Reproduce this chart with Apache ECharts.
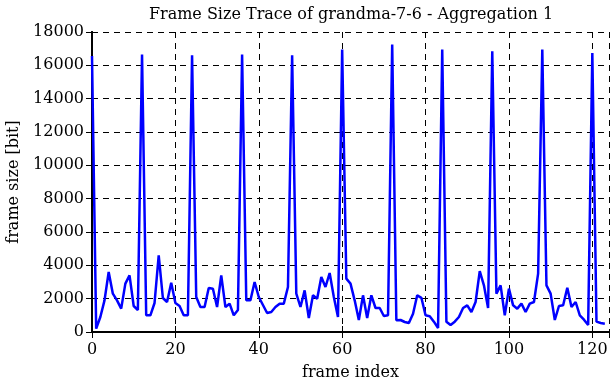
<!DOCTYPE html>
<html>
<head>
<meta charset="utf-8">
<script src="https://cdn.jsdelivr.net/npm/echarts@6/dist/echarts.min.js"></script>
<style>html,body{margin:0;padding:0;background:#fff}#c{width:612px;height:382px}</style>
</head>
<body>
<div id="c"></div>
<script>
const titleText = "Frame Size Trace of grandma-7-6 - Aggregation 1";
const xName = "frame index";
const yName = "frame size [bit]";
const yTicks = [0, 2000, 4000, 6000, 8000, 10000, 12000, 14000, 16000, 18000];
const xTicks = [0, 20, 40, 60, 80, 100, 120];
// frame sizes in bits, frames 0..123
const frameSizes = [
  16560, 200, 900, 1900, 3600, 2300, 1900, 1400, 2900, 3400,
  1560, 1320, 16650, 1000, 1000, 1740, 4600, 2040, 1800, 2950,
  1740, 1560, 1000, 1000, 16600, 2100, 1500, 1500, 2640, 2600,
  1500, 3400, 1500, 1700, 1000, 1320, 16650, 1900, 1900, 3000,
  2100, 1620, 1140, 1200, 1500, 1700, 1700, 2700, 16600, 2300,
  1500, 2500, 840, 2200, 2000, 3300, 2700, 3540, 2100, 900,
  16950, 3200, 2900, 1900, 720, 2200, 840, 2200, 1440, 1440,
  960, 1000, 17250, 700, 720, 600, 540, 1100, 2200, 2050,
  1000, 950, 620, 240, 16950, 620, 420, 620, 900, 1440,
  1600, 1200, 1800, 3650, 2800, 1440, 16850, 2300, 2800, 1000,
  2600, 1600, 1400, 1700, 1200, 1700, 1800, 3500, 16950, 2800,
  2300, 720, 1560, 1600, 2650, 1500, 1800, 1000, 740, 420,
  16740, 620, 540, 500
];
const seriesData = frameSizes.map((v, i) => [i, v]);

const font = "DejaVu Serif";
const chart = echarts.init(document.getElementById('c'), null, {renderer: 'canvas'});
chart.setOption({
  animation: false,
  backgroundColor: '#fff',
  title: {text: titleText, left: 346, top: 2, textAlign: 'center',
    textStyle: {fontFamily: font, fontSize: 16, fontWeight: 'normal', color: '#000'}},
  grid: {left: 92, right: 3, top: 32, bottom: 50, containLabel: false, outerBoundsMode: 'none'},
  xAxis: [
    {type: 'value', min: 0, max: 124, interval: 20, position: 'bottom',
     name: xName, nameLocation: 'middle', nameGap: 33,
     nameTextStyle: {fontFamily: font, fontSize: 16, color: '#000'},
     axisLine: {show: true, lineStyle: {color: '#000', width: 2}},
     axisTick: {show: true, inside: true, length: 6, lineStyle: {color: '#000', width: 1}},
     axisLabel: {fontFamily: font, fontSize: 16, color: '#000', margin: 10,
       showMaxLabel: false,
       formatter: v => xTicks.includes(v) ? String(v) : ''},
     splitLine: {show: true, lineStyle: {color: '#000', type: [6, 5], width: 1}}},
    {type: 'value', min: 0, max: 124, interval: 20, position: 'top',
     axisLine: {show: true, lineStyle: {color: '#000', width: 2}},
     axisTick: {show: true, inside: true, length: 6, lineStyle: {color: '#000', width: 1}},
     axisLabel: {show: false}, splitLine: {show: false}}
  ],
  yAxis: [
    {type: 'value', min: 0, max: 18000, interval: 2000, position: 'left',
     name: yName, nameLocation: 'middle', nameGap: 70, nameRotate: 90,
     nameTextStyle: {fontFamily: font, fontSize: 16, color: '#000'},
     axisLine: {show: true, lineStyle: {color: '#000', width: 2}},
     axisTick: {show: true, inside: true, length: 6, lineStyle: {color: '#000', width: 1}},
     axisLabel: {fontFamily: font, fontSize: 16, color: '#000', margin: 8,
       formatter: v => yTicks.includes(v) ? String(v) : ''},
     splitLine: {show: true, lineStyle: {color: '#000', type: [6, 5], width: 1}}},
    {type: 'value', min: 0, max: 18000, interval: 2000, position: 'right',
     axisLine: {show: true, lineStyle: {color: '#000', width: 2}},
     axisTick: {show: true, inside: true, length: 6, lineStyle: {color: '#000', width: 1}},
     axisLabel: {show: false}, splitLine: {show: false}}
  ],
  series: [{
    type: 'line', data: seriesData, xAxisIndex: 0, yAxisIndex: 0,
    showSymbol: false, symbol: 'none', clip: true,
    lineStyle: {color: '#0000ff', width: 2.5}
  }]
});
</script>
</body>
</html>
